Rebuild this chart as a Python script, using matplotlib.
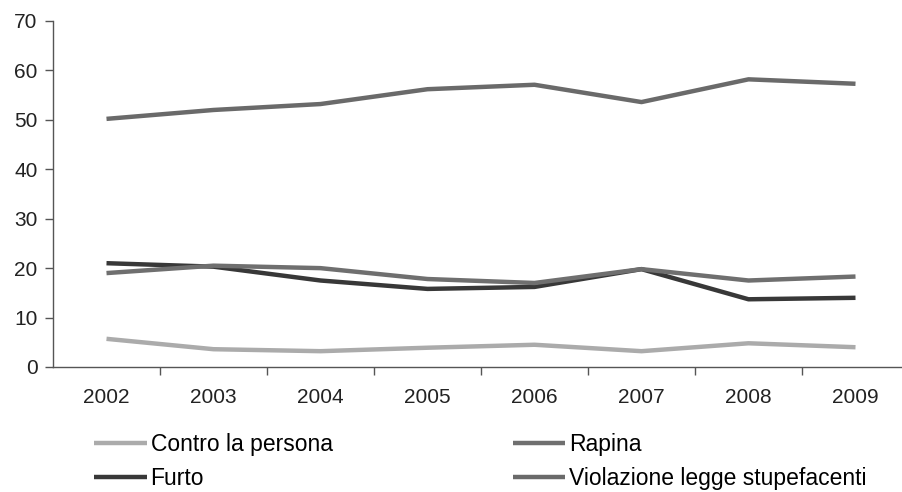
import matplotlib.pyplot as plt

# data
years = ["2002", "2003", "2004", "2005", "2006", "2007", "2008", "2009"]
contro_persona = [5.7, 3.6, 3.2, 3.9, 4.5, 3.2, 4.8, 4.0]
furto = [21.0, 20.3, 17.5, 15.8, 16.2, 19.8, 13.7, 14.0]
rapina = [19.0, 20.5, 20.0, 17.8, 17.0, 19.8, 17.5, 18.3]
stupefacenti = [50.2, 52.0, 53.2, 56.2, 57.1, 53.6, 58.2, 57.3]

plt.rcParams['font.family'] = ['Liberation Sans', 'DejaVu Sans']

fig = plt.figure(figsize=(9.03, 4.92), dpi=100)
W, H = 903, 492
ax = fig.add_axes([53 / W, (H - 367) / H, (909 - 53) / W, (367 - 21) / H])

x = range(len(years))
ax.plot(x, contro_persona, color='#ababab', lw=3.2, label='Contro la persona', solid_capstyle='butt')
ax.plot(x, furto, color='#383838', lw=3.2, label='Furto', solid_capstyle='butt')
ax.plot(x, rapina, color='#6f6f6f', lw=3.2, label='Rapina', solid_capstyle='butt')
ax.plot(x, stupefacenti, color='#6a6a6a', lw=3.2, label='Violazione legge stupefacenti', solid_capstyle='butt')

ax.set_xlim(-0.5, len(years) - 0.5)
ax.set_ylim(0, 70)
ax.set_yticks(range(0, 71, 10))
ax.set_xticks(list(x))
ax.set_xticklabels(years)
ax.set_xticks([i + 0.5 for i in range(len(years) - 1)], minor=True)
ax.tick_params(axis='x', which='major', length=0, pad=15, labelsize=15, colors='#222222')
ax.tick_params(axis='x', which='minor', length=6, width=1, color='#555555')
ax.tick_params(axis='y', length=6, width=1, color='#555555', labelsize=15, labelcolor='#222222', pad=5)

for s in ['top', 'right']:
    ax.spines[s].set_visible(False)
for s in ['left', 'bottom']:
    ax.spines[s].set_color('#555555')
    ax.spines[s].set_linewidth(1)

fig.legend(loc='upper left', bbox_to_anchor=(94 / W, 1 - 433 / H), ncol=2, frameon=False,
           fontsize=16.5, handlelength=2.3, handletextpad=0.17, columnspacing=7.85,
           labelspacing=0.5, borderaxespad=0, borderpad=0)

fig.savefig('out.png', dpi=100)
